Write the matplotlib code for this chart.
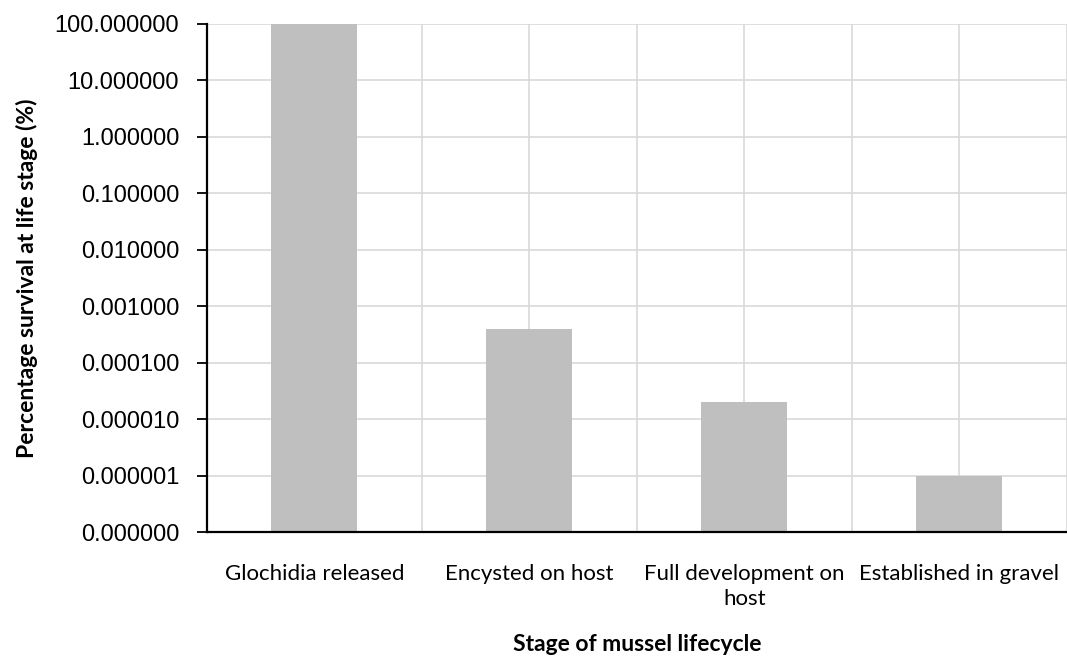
import matplotlib.pyplot as plt
from matplotlib.ticker import FixedLocator, FuncFormatter, NullLocator

stages = ["Glochidia released", "Encysted on host",
          "Full development on\nhost", "Established in gravel"]
survival = [100.0, 0.0004, 0.00002, 0.000001]
y_ticks = [1e-7, 1e-6, 1e-5, 1e-4, 1e-3, 1e-2, 1e-1, 1, 10, 100]


def make_fig():
    fig = plt.figure(figsize=[10.67, 6.66], dpi=100)
    ax = fig.add_axes([0.194, 0.2012, 0.806, 0.7628])

    x = list(range(len(stages)))
    ax.bar(x, survival, width=0.4, color='#bfbfbf', zorder=3)

    ax.set_yscale('log')
    ax.set_ylim(y_ticks[0], y_ticks[-1])
    ax.set_xlim(-0.5, len(stages) - 0.5)

    ax.yaxis.set_major_locator(FixedLocator(y_ticks))
    ax.yaxis.set_minor_locator(NullLocator())
    ax.yaxis.set_major_formatter(FuncFormatter(lambda v, p: "{:.6f}".format(v)))

    ax.set_xticks(x)
    ax.set_xticks([i - 0.5 for i in range(len(stages) + 1)], minor=True)
    ax.set_xticklabels(stages, family='Lato', fontsize=16, linespacing=1.3)

    ax.grid(True, which='major', axis='both', color='#d9d9d9', lw=1.2, zorder=0)
    ax.grid(True, which='minor', axis='x', color='#d9d9d9', lw=1.2, zorder=0)
    ax.set_axisbelow(True)

    for t in ax.get_yticklabels():
        t.set_family('Liberation Sans')
    ax.tick_params(axis='y', labelsize=17, length=7, width=1.3, pad=13, color='black')
    ax.tick_params(axis='x', which='both', length=0, pad=23)

    for s in ['top', 'right']:
        ax.spines[s].set_visible(False)
    for s in ['left', 'bottom']:
        ax.spines[s].set_linewidth(1.6)
        ax.spines[s].set_color('black')
        ax.spines[s].set_zorder(4)

    ax.set_xlabel("Stage of mussel lifecycle", family='Lato', fontweight='bold', fontsize=16.5)
    ax.xaxis.set_label_coords(0.5, -0.2)
    ax.set_ylabel("Percentage survival at life stage (%)", family='Lato', fontweight='bold', fontsize=16.5)
    ax.yaxis.set_label_coords(-0.196, 0.5)

    plt.savefig("out.png", dpi=100)
    plt.close()


if __name__ == "__main__":
    make_fig()
